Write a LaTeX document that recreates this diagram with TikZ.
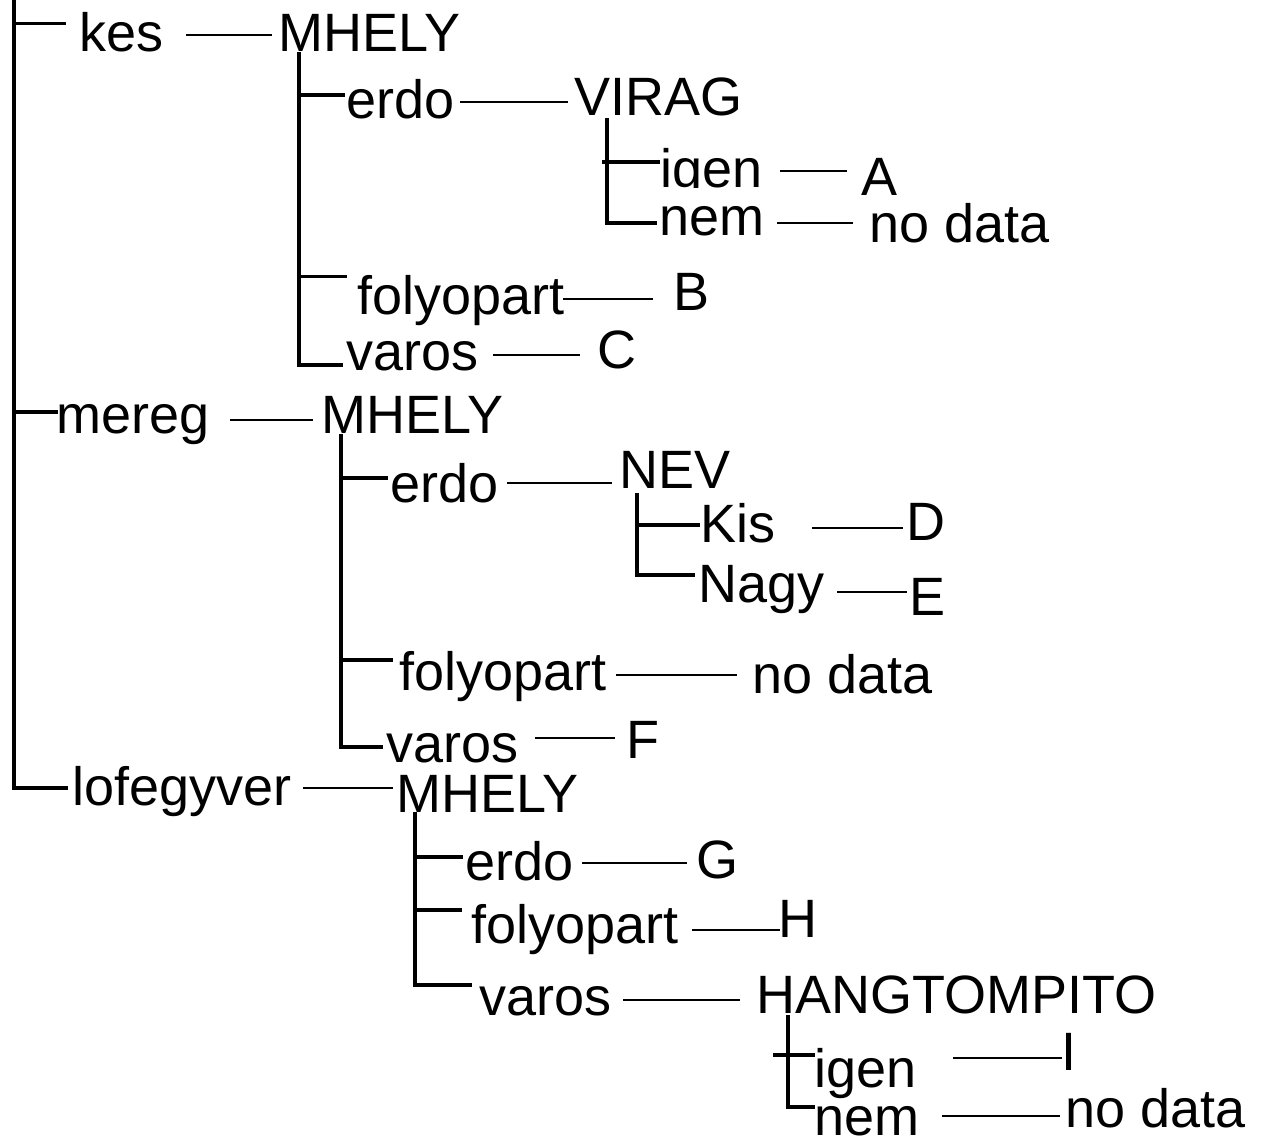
\documentclass[tikz,border=0pt]{standalone}
\usepackage{fontspec}
\setmainfont{Liberation Sans}
\begin{document}
\begin{tikzpicture}[x=1pt,y=-1pt,
  lab/.style={anchor=base west,inner sep=0pt,font=\fontsize{54}{62}\selectfont},
  tree/.style={line width=3.4pt,line join=miter},
  conn/.style={line width=2.7pt}]
\useasboundingbox[fill=white] (0,0) rectangle (1262,1138);

% ---------- tree lines ----------
\coordinate (root) at (14,-2);
\coordinate (rb1) at (66,23.5);
\coordinate (rb2) at (58,412);
\coordinate (rb3) at (68,788);
\draw[tree] (root) |- (rb3);
\draw[tree] (rb1 -| root) -- (rb1);
\draw[tree] (rb2 -| root) -- (rb2);

\coordinate (m1top) at (299,52);
\coordinate (m1b1) at (345,95);
\coordinate (m1b2) at (347,276.5);
\coordinate (m1b3) at (343,365);
\draw[tree] (m1top) |- (m1b3);
\draw[tree] (m1b1 -| m1top) -- (m1b1);
\draw[tree] (m1b2 -| m1top) -- (m1b2);

\coordinate (vtop) at (607,118);
\coordinate (vb1) at (660,162);
\coordinate (vb2) at (657,223);
\draw[tree] (vtop) |- (vb2);
\draw[tree] (602,162) -- (vb1);

\coordinate (m2top) at (341,434);
\coordinate (m2b1) at (388,478);
\coordinate (m2b2) at (393,660);
\coordinate (m2b3) at (383,747);
\draw[tree] (m2top) |- (m2b3);
\draw[tree] (m2b1 -| m2top) -- (m2b1);
\draw[tree] (m2b2 -| m2top) -- (m2b2);

\coordinate (ntop) at (637,493);
\coordinate (nb1) at (700,525);
\coordinate (nb2) at (695,575);
\draw[tree] (ntop) |- (nb2);
\draw[tree] (nb1 -| ntop) -- (nb1);

\coordinate (m3top) at (415,812);
\coordinate (m3b1) at (463,857);
\coordinate (m3b2) at (462,910);
\coordinate (m3b3) at (472,985);
\draw[tree] (m3top) |- (m3b3);
\draw[tree] (m3b1 -| m3top) -- (m3b1);
\draw[tree] (m3b2 -| m3top) -- (m3b2);

\coordinate (htop) at (788,1015);
\coordinate (hb1) at (815,1055);
\coordinate (hb2) at (815,1107);
\draw[tree] (htop) |- (hb2);
\draw[tree] (773,1055) -- (hb1);

% ---------- labels ----------
\node[lab] (kes) at (79,51) {kes};
\node[lab] (mh1) at (278,51) {MHELY};
\node[lab] (erdo1) at (346,118) {erdo};
\node[lab] (virag) at (574,115) {VIRAG};
\node[lab] (igen1) at (660,187) {igen};
\node[lab,fill=white,text height=47pt] (nem1) at (659,235) {nem};
\node[lab] (A) at (861,195) {A};
\node[lab] (nd1) at (869,242) {no data};
\node[lab] (fp1) at (357,314) {folyopart};
\node[lab] (B) at (673,310) {B};
\node[lab] (varos1) at (346,370) {varos};
\node[lab] (C) at (597,368) {C};
\node[lab] (mereg) at (56,433) {mereg};
\node[lab] (mh2) at (321,433) {MHELY};
\node[lab] (erdo2) at (390,502) {erdo};
\node[lab] (nev) at (619,488) {NEV};
\node[lab] (kis) at (700,542) {Kis};
\node[lab] (D) at (906,540) {D};
\node[lab] (nagy) at (698,602) {Nagy};
\node[lab] (E) at (909,615) {E};
\node[lab] (fp2) at (399,690) {folyopart};
\node[lab] (nd2) at (752,693) {no data};
\node[lab] (varos2) at (386,762) {varos};
\node[lab] (F) at (626,758) {F};
\node[lab] (lof) at (72,805) {lofegyver};
\node[lab] (mh3) at (396,812) {MHELY};
\node[lab] (erdo3) at (465,880) {erdo};
\node[lab] (G) at (696,878) {G};
\node[lab] (fp3) at (471,943) {folyopart};
\node[lab] (H) at (778,937) {H};
\node[lab] (varos3) at (479,1015) {varos};
\node[lab] (hang) at (756,1013) {HANGTOMPITO};
\node[lab] (igen2) at (814,1087) {igen};
\node[lab] (I) at (1061,1070) {I};
\node[lab] (nem2) at (814,1135) {nem};
\node[lab] (nd3) at (1065,1127) {no data};

% ---------- connectors between labels ----------
\coordinate (c1a) at (186,35);   \coordinate (c1b) at (272,35);
\coordinate (c2a) at (460,102);  \coordinate (c2b) at (568,102);
\coordinate (c3a) at (780,171);  \coordinate (c3b) at (847,171);
\coordinate (c4a) at (777,223);  \coordinate (c4b) at (853,223);
\coordinate (c5a) at (563,299);  \coordinate (c5b) at (653,299);
\coordinate (c6a) at (493,355);  \coordinate (c6b) at (580,355);
\coordinate (c7a) at (230,420);  \coordinate (c7b) at (313,420);
\coordinate (c8a) at (507,483);  \coordinate (c8b) at (612,483);
\coordinate (c9a) at (812,528);  \coordinate (c9b) at (903,528);
\coordinate (c10a) at (837,592); \coordinate (c10b) at (907,592);
\coordinate (c11a) at (616,675); \coordinate (c11b) at (737,675);
\coordinate (c12a) at (535,738); \coordinate (c12b) at (615,738);
\coordinate (c13a) at (303,788); \coordinate (c13b) at (393,788);
\coordinate (c14a) at (582,863); \coordinate (c14b) at (687,863);
\coordinate (c15a) at (692,930); \coordinate (c15b) at (780,930);
\coordinate (c16a) at (623,1000); \coordinate (c16b) at (740,1000);
\coordinate (c17a) at (953,1058); \coordinate (c17b) at (1062,1058);
\coordinate (c18a) at (942,1116); \coordinate (c18b) at (1060,1116);
\foreach \i in {1,...,18} { \draw[conn] (c\i a) -- (c\i b); }
\end{tikzpicture}
\end{document}
